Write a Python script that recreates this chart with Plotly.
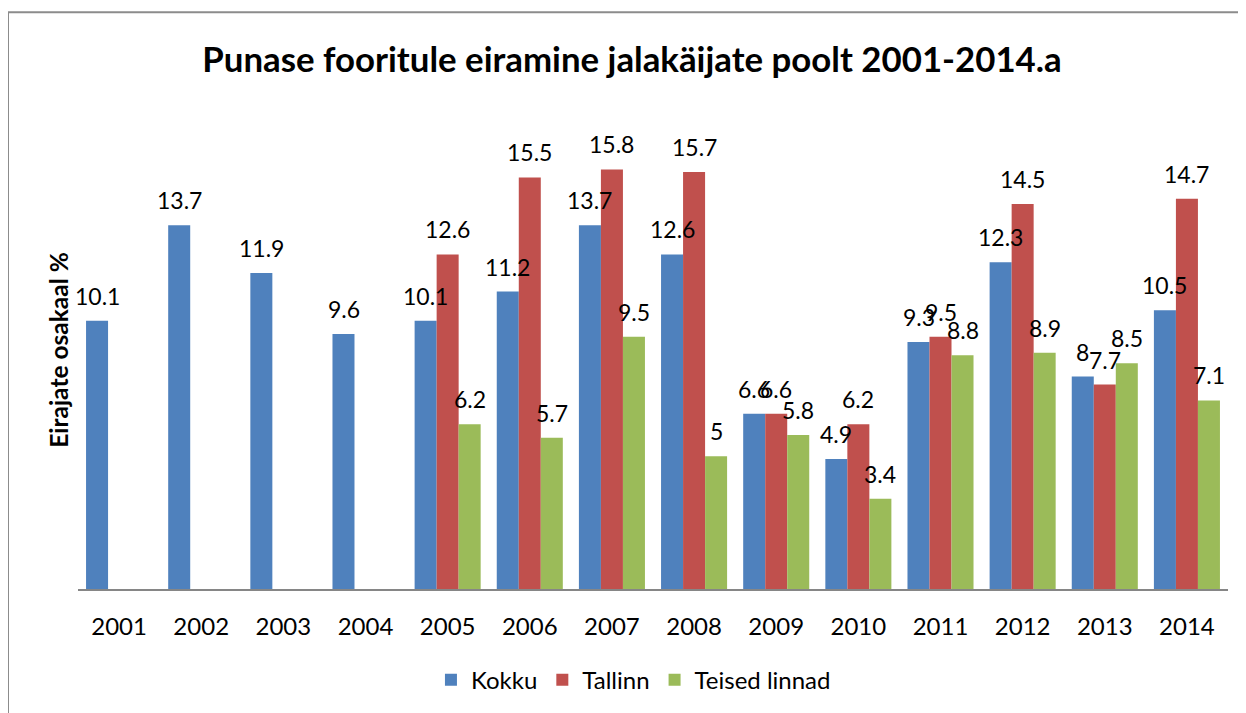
import plotly.graph_objects as go

years = ["2001", "2002", "2003", "2004", "2005", "2006", "2007",
         "2008", "2009", "2010", "2011", "2012", "2013", "2014"]
kokku = [10.1, 13.7, 11.9, 9.6, 10.1, 11.2, 13.7, 12.6, 6.6, 4.9, 9.3, 12.3, 8, 10.5]
tallinn = [None, None, None, None, 12.6, 15.5, 15.8, 15.7, 6.6, 6.2, 9.5, 14.5, 7.7, 14.7]
teised = [None, None, None, None, 6.2, 5.7, 9.5, 5, 5.8, 3.4, 8.8, 8.9, 8.5, 7.1]

series = [("Kokku", kokku, "#4F81BD"),
          ("Tallinn", tallinn, "#C0504D"),
          ("Teised linnad", teised, "#9BBB59")]

FONT = "Lato"
fig = go.Figure()
annotations = []
shifts = [-22, 0, 22]
for (name, vals, col), sh in zip(series, shifts):
    fig.add_trace(go.Bar(
        x=years, y=vals, name=name,
        marker=dict(color=col, line=dict(width=0)),
    ))
    for i, yv in enumerate(vals):
        if yv is None:
            continue
        annotations.append(dict(
            x=i, y=yv, xref="x", yref="y", text=f"{yv:g}",
            showarrow=False, xshift=sh, yshift=25, yanchor="middle",
            font=dict(family=FONT, size=23, color="#000000"),
        ))

W, H = 1238, 705
fig.update_layout(
    width=W, height=H,
    margin=dict(l=70, r=18, t=103, b=123),
    paper_bgcolor="white", plot_bgcolor="white",
    barmode="group", bargap=0.196, bargroupgap=0,
    title=dict(text="<b>Punase fooritule eiramine jalakäijate poolt 2001-2014.a</b>",
               x=(632 - 8) / W, xanchor="center", xref="container",
               y=1 - 52 / H, yanchor="middle", yref="container",
               font=dict(family=FONT, size=34.8, color="#000000")),
    xaxis=dict(type="category", categoryorder="array", categoryarray=years,
               range=[-0.5, len(years) - 0.5], autorange=False,
               showline=True, linecolor="#868686", linewidth=1.5,
               ticks="", showgrid=False, ticklabelstandoff=15,
               tickfont=dict(family=FONT, size=24, color="#000000")),
    yaxis=dict(range=[0, 18], showticklabels=False, showgrid=False, zeroline=False,
               showline=False, ticks="",
               title=dict(text="<b>Eirajate osakaal %</b>", standoff=1,
                          font=dict(family=FONT, size=24.5, color="#000000"))),
    legend=dict(orientation="h", x=0.483, xanchor="center", y=-0.188, yanchor="middle",
                font=dict(family=FONT, size=24, color="#000000"),
                itemwidth=30, tracegroupgap=0),
    annotations=annotations,
    shapes=[dict(type="rect", xref="paper", yref="paper",
                 x0=(8 - 78) / 1150, x1=(1260 - 78) / 1150,
                 y0=(590 - 730) / 479, y1=(590 - 12) / 479,
                 line=dict(color="#8C8C8C", width=2), fillcolor="rgba(0,0,0,0)",
                 layer="below")],
    showlegend=True,
)

fig.write_html("out.html")
